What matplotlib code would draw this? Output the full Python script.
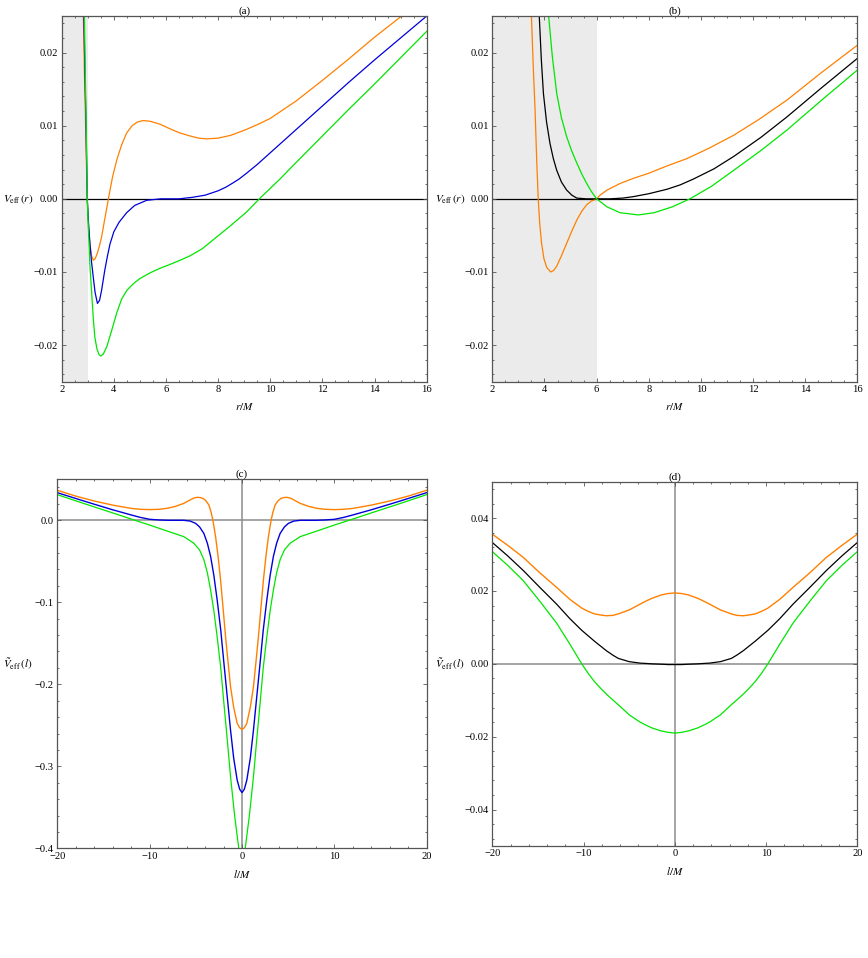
import matplotlib
matplotlib.use('Agg')
import matplotlib.pyplot as plt
from matplotlib.ticker import MultipleLocator

plt.rcParams['font.family'] = ['Liberation Serif', 'DejaVu Serif']
plt.rcParams['mathtext.fontset'] = 'stix'

ORANGE = '#ff8000'
GREEN = '#00e600'
BLUE = '#0000dd'
BLACK = '#000000'

# ---- panel (a): V_eff(r) ----
a_orange_r = [2.83, 2.87, 2.91, 2.95, 2.98, 3.03, 3.08, 3.14, 3.21, 3.28, 3.36, 3.45, 3.53, 3.65,
              3.79, 3.95, 4.11, 4.3, 4.49, 4.7, 4.9, 5.12, 5.4, 5.77, 6.2, 6.54, 6.92, 7.25, 7.56,
              8.0, 8.5, 9.09, 9.6, 10.0, 11.0, 12.0, 13.0, 14.0, 15.04]
a_orange_v = [0.0250, 0.0175, 0.0110, 0.0045, 0.0, -0.0040, -0.0062, -0.0077, -0.0084, -0.0082,
              -0.0075, -0.0064, -0.0052, -0.0028, 0.0, 0.0030, 0.0053, 0.0074, 0.0090, 0.0100,
              0.0105, 0.0107, 0.0106, 0.0102, 0.0095, 0.0090, 0.0086, 0.0083, 0.0082, 0.0083,
              0.0087, 0.0095, 0.0103, 0.0110, 0.0134, 0.0162, 0.0191, 0.0221, 0.0250]

a_blue_r = [2.85, 2.89, 2.93, 2.98, 3.03, 3.08, 3.14, 3.21, 3.28, 3.37, 3.45, 3.53, 3.65, 3.75,
            3.85, 4.0, 4.2, 4.49, 4.8, 5.26, 5.8, 6.5, 7.0, 7.5, 8.0, 8.3, 8.58, 8.8, 9.09, 9.5,
            10.0, 11.0, 12.0, 13.0, 14.0, 15.0, 16.0]
a_blue_v = [0.0250, 0.0175, 0.0105, 0.0, -0.0034, -0.0060, -0.0085, -0.0107, -0.0128, -0.0143,
            -0.0139, -0.0125, -0.0098, -0.0079, -0.0062, -0.0045, -0.0032, -0.0019, -0.0009,
            -0.0002, 0.0, 0.0, 0.0002, 0.0005, 0.0011, 0.0016, 0.0022, 0.0027, 0.0035, 0.0047,
            0.0063, 0.0095, 0.0127, 0.0159, 0.0190, 0.0220, 0.0250]

a_green_r = [2.87, 2.91, 2.95, 2.98, 3.02, 3.08, 3.15, 3.21, 3.27, 3.35, 3.43, 3.50, 3.6, 3.73,
             3.9, 4.11, 4.3, 4.5, 4.75, 5.0, 5.4, 5.77, 6.2, 6.54, 6.92, 7.4, 7.81, 8.4, 9.09,
             9.58, 10.37, 11.0, 12.0, 13.0, 14.0, 15.0, 16.0]
a_green_v = [0.0250, 0.0160, 0.0075, 0.0, -0.0038, -0.0090, -0.0129, -0.0163, -0.0189, -0.0205,
             -0.0213, -0.0215, -0.0212, -0.0202, -0.0182, -0.0156, -0.0137, -0.0125, -0.0116,
             -0.0109, -0.0101, -0.0095, -0.0089, -0.0084, -0.0078, -0.0068, -0.0056, -0.0039,
             -0.0018, 0.0, 0.0027, 0.0050, 0.0086, 0.0122, 0.0157, 0.0193, 0.0229]

# ---- panel (b): V_eff(r) ----
b_orange_r = [3.50, 3.57, 3.64, 3.70, 3.76, 3.82, 3.89, 3.98, 4.09, 4.24, 4.35, 4.47, 4.65, 4.85,
              5.05, 5.24, 5.43, 5.62, 5.8, 6.0, 6.13, 6.4, 6.9, 7.41, 8.0, 8.7, 9.46, 10.3, 11.26,
              12.2, 13.3, 14.6, 16.0]
b_orange_v = [0.0250, 0.0180, 0.0121, 0.0055, 0.0, -0.0035, -0.0061, -0.0082, -0.0094, -0.0100,
              -0.0098, -0.0092, -0.0078, -0.0061, -0.0044, -0.0029, -0.0017, -0.0008, -0.0003,
              0.0, 0.0005, 0.0012, 0.0021, 0.0028, 0.0035, 0.0045, 0.0055, 0.0069, 0.0087,
              0.0108, 0.0135, 0.0172, 0.0210]

b_black_r = [3.80, 3.88, 3.96, 4.08, 4.21, 4.34, 4.47, 4.65, 4.85, 5.05, 5.24, 5.6, 6.5, 7.0,
             7.41, 8.0, 8.69, 9.2, 9.71, 10.5, 11.26, 12.3, 13.3, 14.6, 16.0]
b_black_v = [0.0250, 0.0190, 0.0144, 0.0105, 0.0076, 0.0055, 0.0039, 0.0023, 0.0012, 0.0005,
             0.0001, 0.0, 0.0, 0.0001, 0.0003, 0.0007, 0.0013, 0.0019, 0.0027, 0.0041, 0.0058,
             0.0084, 0.0112, 0.0151, 0.0192]

b_green_r = [4.16, 4.3, 4.47, 4.65, 4.85, 5.05, 5.24, 5.43, 5.62, 5.8, 6.0, 6.4, 6.9, 7.6, 8.2,
             8.9, 9.58, 10.4, 11.26, 12.3, 13.3, 14.6, 16.0]
b_green_v = [0.0250, 0.0195, 0.0144, 0.0111, 0.0085, 0.0065, 0.0049, 0.0034, 0.0021, 0.0010,
             0.0, -0.0011, -0.0019, -0.0022, -0.0019, -0.0011, 0.0, 0.0017, 0.0039, 0.0066,
             0.0094, 0.0134, 0.0176]

# ---- panel (c): V~_eff(l) ----
c_orange_l = [-20, -18, -16, -14, -12, -11, -10, -9, -8.1, -7.2, -6.29, -5.5, -5.2, -4.85, -4.5,
              -4.2, -3.9, -3.59, -3.35, -3.15, -2.86, -2.6, -2.32, -2.05, -1.78, -1.5, -1.24,
              -0.9, -0.52, -0.25, 0, 0.25, 0.52, 0.9, 1.24, 1.5, 1.78, 2.05, 2.32, 2.6, 2.86, 3.15,
              3.35, 3.59, 3.9, 4.2, 4.5, 4.85, 5.2, 5.5, 6.29, 7.2, 8.1, 9, 10, 11, 12, 14, 16,
              18, 20]
c_orange_v = [0.0366, 0.0295, 0.0235, 0.0185, 0.0145, 0.0134, 0.0130, 0.0134, 0.0146, 0.0170,
              0.0207, 0.0255, 0.0272, 0.0280, 0.0277, 0.0265, 0.0237, 0.0187, 0.0100, 0.0,
              -0.0200, -0.0430, -0.0728, -0.1070, -0.1420, -0.1740, -0.2030, -0.2280, -0.2476,
              -0.2530, -0.2550, -0.2530, -0.2476, -0.2280, -0.2030, -0.1740, -0.1420, -0.1070,
              -0.0728, -0.0430, -0.0200, 0.0, 0.0100, 0.0187, 0.0237, 0.0265, 0.0277, 0.0280,
              0.0272, 0.0255, 0.0207, 0.0170, 0.0146, 0.0134, 0.0130, 0.0134, 0.0145, 0.0185,
              0.0235, 0.0295, 0.0366]

c_blue_l = [-20, -18, -16, -14, -12, -11, -10, -9, -8, -6.3, -5.6, -5.03, -4.6, -4.13, -3.75, -3.4,
            -3.05, -2.69, -2.3, -1.96, -1.6, -1.24, -0.9, -0.52, -0.25, 0, 0.25, 0.52, 0.9, 1.24,
            1.6, 1.96, 2.3, 2.69, 3.05, 3.4, 3.75, 4.13, 4.6, 5.03, 5.6, 6.3, 8, 9, 10, 11, 12,
            14, 16, 18, 20]
c_blue_v = [0.0337, 0.0266, 0.0196, 0.0128, 0.0065, 0.0035, 0.0012, 0.0004, 0.0, 0.0, -0.0010,
            -0.0037, -0.0080, -0.0160, -0.0280, -0.0440, -0.0670, -0.0970, -0.1340, -0.1740,
            -0.2150, -0.2560, -0.2900, -0.3170, -0.3280, -0.3320, -0.3280, -0.3170, -0.2900,
            -0.2560, -0.2150, -0.1740, -0.1340, -0.0970, -0.0670, -0.0440, -0.0280, -0.0160,
            -0.0080, -0.0037, -0.0010, 0.0, 0.0, 0.0004, 0.0012, 0.0035, 0.0065, 0.0128,
            0.0196, 0.0266, 0.0337]

c_green_l = [-20, -17, -14, -11.6, -10, -8, -6.29, -5.21, -4.6, -4.13, -3.75, -3.4, -3.05, -2.69,
             -2.3, -1.96, -1.6, -1.24, -0.8, -0.35, 0, 0.35, 0.8, 1.24, 1.6, 1.96, 2.3, 2.69,
             3.05, 3.4, 3.75, 4.13, 4.6, 5.21, 6.29, 8, 10, 11.6, 14, 17, 20]
c_green_v = [0.0313, 0.0200, 0.0090, 0.0, -0.0058, -0.0135, -0.0200, -0.0280, -0.0360, -0.0480,
             -0.0640, -0.0850, -0.1100, -0.1420, -0.1800, -0.2230, -0.2670, -0.3127, -0.3600,
             -0.4000, -0.4250, -0.4000, -0.3600, -0.3127, -0.2670, -0.2230, -0.1800, -0.1420,
             -0.1100, -0.0850, -0.0640, -0.0480, -0.0360, -0.0280, -0.0200, -0.0135, -0.0058,
             0.0, 0.0090, 0.0200, 0.0313]

# ---- panel (d): V~_eff(l) ----
d_l = [-20, -18.3, -16.6, -14.8, -12.96, -11.5, -10.2, -9.5, -8.8, -8.1, -7.5, -6.8, -6.2, -5,
       -3.8, -3.1, -2.5, -1.5, -0.75, 0, 0.75, 1.5, 2.5, 3.1, 3.8, 5, 6.2, 6.8, 7.5, 8.1, 8.8,
       9.5, 10.2, 11.5, 12.96, 14.8, 16.6, 18.3, 20]
d_orange_v = [0.0356, 0.0325, 0.0292, 0.0250, 0.0210, 0.0177, 0.0153, 0.0144, 0.0137, 0.0134,
              0.0132, 0.0133, 0.0137, 0.0148, 0.0164, 0.0173, 0.0180, 0.0189, 0.0193, 0.01945,
              0.0193, 0.0189, 0.0180, 0.0173, 0.0164, 0.0148, 0.0137, 0.0133, 0.0132, 0.0134,
              0.0137, 0.0144, 0.0153, 0.0177, 0.0210, 0.0250, 0.0292, 0.0325, 0.0356]
d_black_v = [0.0333, 0.0296, 0.0256, 0.0210, 0.0164, 0.0124, 0.0092, 0.0077, 0.0062, 0.0048,
             0.0036, 0.0024, 0.0015, 0.0006, 0.0002, 0.0001, 0.0, -0.0001, -0.0002, -0.0002,
             -0.0002, -0.0001, 0.0, 0.0001, 0.0002, 0.0006, 0.0015, 0.0024, 0.0036, 0.0048,
             0.0062, 0.0077, 0.0092, 0.0124, 0.0164, 0.0210, 0.0256, 0.0296, 0.0333]
d_green_v = [0.0308, 0.0270, 0.0228, 0.0172, 0.0112, 0.0054, 0.0, -0.0026, -0.0049, -0.0068,
             -0.0083, -0.0099, -0.0112, -0.0140, -0.0160, -0.0169, -0.0176, -0.0184, -0.0188,
             -0.0190, -0.0188, -0.0184, -0.0176, -0.0169, -0.0160, -0.0140, -0.0112, -0.0099,
             -0.0083, -0.0068, -0.0049, -0.0026, 0.0, 0.0054, 0.0112, 0.0172, 0.0228, 0.0270,
             0.0308]

# ticks
r_ticks = [2, 4, 6, 8, 10, 12, 14, 16]
r_tick_labels = ['2', '4', '6', '8', '10', '12', '14', '16']
v_ticks_ab = [-0.02, -0.01, 0.0, 0.01, 0.02]
v_labels_ab = ['\u22120.02', '\u22120.01', '0.00', '0.01', '0.02']
l_ticks = [-20, -10, 0, 10, 20]
l_tick_labels = ['\u221220', '\u221210', '0', '10', '20']
v_ticks_c = [-0.4, -0.3, -0.2, -0.1, 0.0]
v_labels_c = ['\u22120.4', '\u22120.3', '\u22120.2', '\u22120.1', '0.0']
v_ticks_d = [-0.04, -0.02, 0.0, 0.02, 0.04]
v_labels_d = ['\u22120.04', '\u22120.02', '0.00', '0.02', '0.04']

fig = plt.figure(figsize=(8.68, 9.58), dpi=100)
ax_a = fig.add_axes([0.0711, 0.6016, 0.4205, 0.3817])
ax_b = fig.add_axes([0.5672, 0.6016, 0.4205, 0.3817])
ax_c = fig.add_axes([0.0660, 0.1145, 0.4256, 0.3852])
ax_d = fig.add_axes([0.5672, 0.1169, 0.4205, 0.3803])

FS = 7.6
FRAME = '#555555'
AXLINE = '#8c8c8c'


def style(ax, title, xlabel, ylabel, xt, xtl, yt, ytl, xminor, yminor, ylab_x):
    for s in ax.spines.values():
        s.set_color(FRAME)
        s.set_linewidth(0.9)
    ax.set_xticks(xt)
    ax.set_xticklabels(xtl)
    ax.set_yticks(yt)
    ax.set_yticklabels(ytl)
    ax.xaxis.set_minor_locator(MultipleLocator(xminor))
    ax.yaxis.set_minor_locator(MultipleLocator(yminor))
    ax.tick_params(which='both', direction='in', top=True, right=True, color=FRAME,
                   labelsize=FS, width=0.6)
    ax.tick_params(which='major', length=3.2, pad=2.5)
    ax.tick_params(which='minor', length=1.6)
    ax.set_title(title, fontsize=FS + 0.4, pad=1.0)
    ax.set_xlabel(xlabel, fontsize=FS + 0.4, labelpad=5)
    ax.set_ylabel(ylabel, fontsize=FS + 0.4, rotation=0, va='center', ha='center')
    ax.yaxis.set_label_coords(ylab_x, 0.5)


# (a)
ax_a.axvspan(2, 3, color='#ebebeb', lw=0, zorder=0)
ax_a.axhline(0, color='black', lw=0.9, zorder=1)
ax_a.plot(a_orange_r, a_orange_v, color=ORANGE, lw=0.9)
ax_a.plot(a_blue_r, a_blue_v, color=BLUE, lw=0.9)
ax_a.plot(a_green_r, a_green_v, color=GREEN, lw=0.9)
ax_a.set_xlim(2, 16)
ax_a.set_ylim(-0.025, 0.025)
style(ax_a, '(a)', r'$r/M$', r'$V_{\rm eff}\,(r)$', r_ticks, r_tick_labels,
      v_ticks_ab, v_labels_ab, 0.5, 0.002, -0.12)

# (b)
ax_b.axvspan(2, 6, color='#ebebeb', lw=0, zorder=0)
ax_b.axhline(0, color='black', lw=0.9, zorder=1)
ax_b.plot(b_orange_r, b_orange_v, color=ORANGE, lw=0.9)
ax_b.plot(b_black_r, b_black_v, color=BLACK, lw=0.9)
ax_b.plot(b_green_r, b_green_v, color=GREEN, lw=0.9)
ax_b.set_xlim(2, 16)
ax_b.set_ylim(-0.025, 0.025)
style(ax_b, '(b)', r'$r/M$', r'$V_{\rm eff}\,(r)$', r_ticks, r_tick_labels,
      v_ticks_ab, v_labels_ab, 0.5, 0.002, -0.116)

# (c)
ax_c.axhline(0, color=AXLINE, lw=1.1, zorder=1)
ax_c.axvline(0, color=AXLINE, lw=1.1, zorder=1)
ax_c.plot(c_orange_l, c_orange_v, color=ORANGE, lw=1.0)
ax_c.plot(c_blue_l, c_blue_v, color=BLUE, lw=1.0)
ax_c.plot(c_green_l, c_green_v, color=GREEN, lw=0.9)
ax_c.set_xlim(-20, 20)
ax_c.set_ylim(-0.4, 0.05)
style(ax_c, '(c)', r'$l/M$', r'$\tilde{V}_{\rm eff}\,(l)$', l_ticks, l_tick_labels,
      v_ticks_c, v_labels_c, 2, 0.02, -0.106)

# (d)
ax_d.axhline(0, color=AXLINE, lw=1.1, zorder=1)
ax_d.axvline(0, color=AXLINE, lw=1.1, zorder=1)
ax_d.plot(d_l, d_orange_v, color=ORANGE, lw=1.0)
ax_d.plot(d_l, d_black_v, color=BLACK, lw=0.9)
ax_d.plot(d_l, d_green_v, color=GREEN, lw=0.9)
ax_d.set_xlim(-20, 20)
ax_d.set_ylim(-0.05, 0.05)
style(ax_d, '(d)', r'$l/M$', r'$\tilde{V}_{\rm eff}\,(l)$', l_ticks, l_tick_labels,
      v_ticks_d, v_labels_d, 2, 0.004, -0.116)

fig.savefig('out.png', dpi=100)
